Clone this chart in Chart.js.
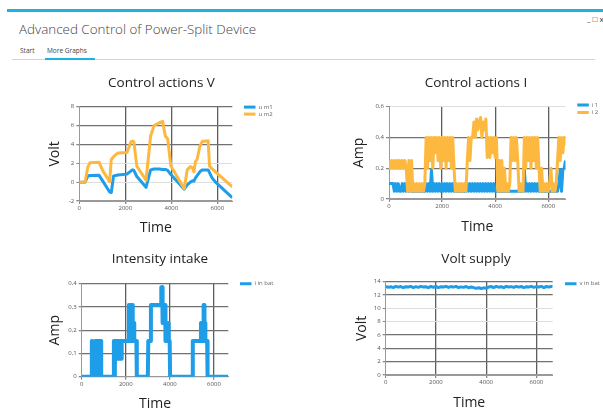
<!DOCTYPE html>
<html>
<head>
<meta charset="utf-8">
<script src="https://cdn.jsdelivr.net/npm/chart.js@4.4.1/dist/chart.umd.min.js"></script>
<style>
  html, body { margin: 0; padding: 0; background: #fff; overflow: hidden; width: 603px; height: 416px; }
  .abs { position: absolute; }
  canvas { position: absolute; }
  .hdr { font-family: 'Open Sans', sans-serif; color: #444; white-space: nowrap; }
</style>
</head>
<body>
<div class="abs" style="left:7px;top:9px;width:596px;height:3px;background:#1cb3e2"></div>
<div class="abs hdr" style="left:19px;top:20px;font-size:13.4px;font-weight:300;">Advanced Control of Power-Split Device</div>
<div class="abs hdr" style="left:587px;top:13px;font-size:8px;color:#333;">_ &#9633; x</div>
<div class="abs hdr" style="left:20px;top:46px;font-size:6.5px;">Start</div>
<div class="abs hdr" style="left:47px;top:46px;font-size:6.5px;">More Graphs</div>
<div class="abs" style="left:12px;top:59px;width:583px;height:1px;background:#d4d4d4"></div>
<div class="abs" style="left:45px;top:58px;width:50px;height:2px;background:#1cb3e2"></div>

<canvas id="c1" width="243" height="170" style="left:40px;top:70px"></canvas>
<canvas id="c2" width="254" height="170" style="left:349px;top:70px"></canvas>
<canvas id="c3" width="240" height="171" style="left:40px;top:245px"></canvas>
<canvas id="c4" width="254" height="171" style="left:349px;top:245px"></canvas>

<script>
// ---------------- DATA ----------------
const xTicks = [0, 2000, 4000, 6000];

// Control actions V
const t1  = [0, 250, 370, 460, 860, 1035, 1320, 1390, 1490, 1680, 2070, 2250, 2320, 2370, 2500, 2900, 3100, 3250, 3480, 3620, 3740, 3840, 3980, 4560, 4690, 4830, 4930, 4980, 5050, 5120, 5240, 5340, 5600, 5660, 5770, 5920, 6650];
const um1 = [0, 0, 0.65, 0.7, 0.72, 0.05, -1.05, -1.1, 0.65, 0.75, 0.85, 1.2, 1.3, 1.25, 0.6, -0.55, 1.3, 1.4, 1.4, 1.35, 1.35, 1.25, 0.8, -0.75, -0.3, 0.0, 0.15, 0.1, 0.45, 0.7, 1.1, 1.3, 1.3, 1.0, 0.45, 0.0, -1.65];
const um2 = [0, 0, 1.6, 2.05, 2.1, 1.15, 0.05, 2.4, 2.7, 3.1, 3.15, 4.3, 4.35, 4.3, 1.7, 0.2, 4.9, 6.0, 6.3, 6.45, 4.9, 4.6, 1.7, -0.7, 1.3, 1.65, 1.5, 1.1, 2.2, 2.4, 3.8, 4.3, 4.4, 1.7, 1.4, 1.1, -0.5];
const yTicks1 = [-2, 0, 2, 4, 6, 8];

// Control actions I
const t2 = [0,50,100,150,200,250,300,350,400,450,500,550,600,650,700,750,800,850,900,950,1000,1050,1100,1150,1200,1250,1300,1350,1400,1450,1500,1550,1600,1650,1700,1750,1800,1850,1900,1950,2000,2050,2100,2150,2200,2250,2300,2350,2400,2450,2500,2550,2600,2650,2700,2750,2800,2850,2900,2950,3000,3050,3100,3150,3200,3250,3300,3350,3400,3450,3500,3550,3600,3650,3700,3750,3800,3850,3900,3950,4000,4050,4100,4150,4200,4250,4300,4350,4400,4450,4500,4550,4600,4650,4700,4750,4800,4850,4900,4950,5000,5050,5100,5150,5200,5250,5300,5350,5400,5450,5500,5550,5600,5650,5700,5750,5800,5850,5900,5950,6000,6050,6100,6150,6200,6250,6300,6350,6400,6450,6500,6550,6600,6650];
const i1 = [0.1,0.1,0.1,0.1,
  0.05,0.1,0.05,0.1,0.05,0.05,0.1,0.05,0.1,0.05,0.1,0.05,0.1,
  0.05,0.05,0.05,0.05,0.05,0.05,0.05,0.05,0.05,0.05,0.05,
  0.1,0.05,0.1,0.05,0.19,0.05,0.1,0.05,0.1,0.05,0.1,0.05,0.1,0.05,0.1,0.05,0.1,0.05,0.1,0.05,0.1,
  0.05,0.05,0.05,0.05,0.05,0.05,0.05,0.05,0.05,0.05,
  0.1,0.05,0.1,0.05,0.1,0.05,0.1,0.05,0.1,0.05,0.1,0.05,0.1,0.05,0.1,0.05,0.1,0.05,0.1,0.05,0.1,0.05,
  0.05,0.05,0.05,0.05,0.05,0.05,0.05,0.05,0.05,0.05,0.05,0.05,0.05,0.05,0.05,0.05,0.05,0.05,0.05,0.05,0.05,
  0.19,0.05,0.1,0.05,0.1,0.05,0.1,0.05,0.1,0.05,0.1,
  0.05,0.05,0.05,0.05,0.05,0.05,0.05,0.05,0.05,0.05,0.05,0.05,0.05,0.05,0.05,
  0.1,0.19,0.05,0.19,0.2,0.25];
const i2 = [0.25,0.2,0.25,0.2,0.25,0.2,0.25,0.2,0.25,0.2,0.25,0.2,0.25,0.2,0.05,0.25,0.05,
  0.25,0.05,0.1,0.05,0.1,0.05,0.1,0.05,0.1,0.05,0.1,
  0.4,0.2,0.4,0.25,0.4,0.2,0.4,0.3,0.4,0.25,0.4,0.2,0.4,0.25,0.4,0.2,0.4,0.25,0.4,0.2,0.4,
  0.2,0.05,0.1,0.05,0.1,0.05,0.1,0.05,0.1,0.05,
  0.25,0.4,0.25,0.4,
  0.4,0.5,0.4,0.52,0.45,0.5,0.53,0.4,0.5,0.45,0.52,
  0.27,0.4,0.27,0.4,0.3,0.4,0.27,
  0.4,0.05,0.25,0.05,0.25,0.05,0.2,
  0.05,0.1,0.05,0.1,
  0.4,0.25,0.4,0.25,0.4,0.25,
  0.05,0.1,0.05,0.05,
  0.4,0.2,0.4,0.25,0.4,0.2,0.4,0.25,0.4,0.2,0.4,
  0.2,0.05,0.2,0.05,0.1,0.05,0.1,0.05,0.1,0.2,0.05,0.1,0.05,
  0.1,0.25,0.4,0.25,0.4,0.3,0.4,0.35];
const yTicks2 = [0, 0.2, 0.4, 0.6];

// Intensity intake
const t3 = [0,450,460,480,490,600,610,620,640,650,700,705,720,725,800,805,830,835,880,885,1450,1460,1490,1495,1510,1515,1560,1565,1580,1585,1610,1615,1640,1645,1670,1675,1700,1705,1720,1725,1760,1765,1790,1795,1820,1825,2130,2140,2180,2190,2230,2235,2260,2270,2290,2300,2320,2325,2340,2345,2380,2385,2480,2500,3000,3020,3120,3140,3600,3610,3650,3660,3680,3690,3720,3730,3760,3770,3790,3800,3830,3840,3870,3880,3920,3930,3950,3960,3990,4010,5020,5040,5400,5410,5440,5450,5470,5480,5520,5530,5560,5570,5600,5610,5690,5710,6650];
const ibat = [0,0,0.154,0.154,0,0,0.154,0,0,0.154,0.154,0,0,0.154,0.154,0,0,0.154,0.154,0,0,0.154,0.154,0,0,0.154,0.154,0.077,0.077,0.154,0.154,0.077,0.077,0.154,0.154,0.077,0.077,0.154,0.154,0.077,0.077,0.154,0.154,0.077,0.077,0.154,0.154,0.308,0.308,0.154,0.154,0.231,0.231,0.308,0.308,0.231,0.231,0.154,0.154,0.231,0.231,0.154,0.154,0,0,0.154,0.154,0.308,0.308,0.385,0.385,0.231,0.231,0.308,0.308,0.231,0.231,0.308,0.308,0.154,0.154,0.231,0.231,0.154,0.154,0.231,0.231,0.154,0.154,0,0,0.154,0.154,0.231,0.231,0.154,0.154,0.231,0.231,0.308,0.308,0.231,0.231,0.154,0.154,0,0];
const yTicks3 = [0, 0.1, 0.2, 0.3, 0.4];

// Volt supply
const t4 = [0,100,200,300,400,500,600,700,800,900,1000,1100,1200,1300,1400,1500,1600,1700,1800,1900,2000,2100,2200,2300,2400,2500,2600,2700,2800,2900,3000,3100,3200,3300,3400,3500,3600,3700,3800,3900,4000,4100,4200,4300,4400,4500,4600,4700,4800,4900,5000,5100,5200,5300,5400,5500,5600,5700,5800,5900,6000,6100,6200,6300,6400,6500,6600,6650];
const vbat = [13.3,13.15,13.25,13.12,13.3,13.18,13.28,13.1,13.25,13.2,13.3,13.12,13.26,13.15,13.3,13.2,13.24,13.1,13.3,13.16,13.28,13.12,13.25,13.2,13.3,13.14,13.27,13.18,13.3,13.12,13.22,13.15,13.28,13.1,13.2,13.12,
  13.0,13.1,12.98,13.08,13.02,
  13.2,13.28,13.12,13.3,13.18,13.25,13.1,13.3,13.2,13.26,13.14,13.3,13.18,13.28,13.12,13.25,13.2,13.3,13.15,13.27,13.2,13.3,13.12,13.28,13.2,13.3,13.25];
const yTicks4 = [0, 2, 4, 6, 8, 10, 12, 14];

// ---------------- STYLE ----------------
const BLUE = '#1e9de8', ORANGE = '#fdb83f';
const DARK = '#707070', LIGHT = '#dddddd';
const FONT = "'Open Sans', sans-serif";

const fixLegend = {
  id: 'fixLegend',
  beforeLayout(chart, args, opts) {
    const lg = chart.legend;
    if (!lg || lg._fixedBox) return;
    lg._fixedBox = true;
    const fit = lg.fit;
    lg.fit = function () { fit.call(this); this.width = opts.width; };
    const draw = lg.draw;
    lg.draw = function (...a) {
      const l = this.left, t = this.top;
      this.left += opts.dx; this.top += opts.dy;
      draw.apply(this, a);
      this.left = l; this.top = t;
    };
  }
};

const pts = (xs, ys) => xs.map((x, i) => ({ x, y: ys[i] }));
const comma = v => String(v).replace('.', ',');

function makeChart(id, g) {
  return new Chart(document.getElementById(id), {
    type: 'line',
    data: { datasets: g.datasets },
    plugins: [fixLegend],
    options: {
      responsive: false, animation: false, devicePixelRatio: 1,
      layout: { padding: 0 },
      elements: { point: { radius: 0 }, line: { tension: 0, borderJoinStyle: 'round' } },
      plugins: {
        tooltip: { enabled: false },
        title: {
          display: true, text: g.title, color: '#222',
          font: { family: FONT, size: 13.5, weight: 'normal', lineHeight: 1.2 },
          padding: { top: g.titlePad[0], bottom: g.titlePad[1] }
        },
        legend: {
          position: 'right', align: 'start', fullSize: false,
          labels: {
            boxWidth: 11.5, boxHeight: 3, padding: g.legPad, color: '#666',
            font: { family: FONT, size: 6 },
            sort: (a, b) => a.datasetIndex - b.datasetIndex,
            generateLabels: ch => Chart.defaults.plugins.legend.labels.generateLabels(ch)
              .map(l => Object.assign(l, { lineWidth: 0, fillStyle: l.strokeStyle }))
          }
        },
        fixLegend: g.leg
      },
      scales: {
        x: {
          type: 'linear', min: 0, max: 6650,
          afterBuildTicks: s => { s.ticks = xTicks.map(v => ({ value: v })); },
          afterFit: s => { s.height = g.xH; },
          ticks: { color: '#555', font: { family: FONT, size: 6 }, padding: 1, maxRotation: 0, callback: v => String(v) },
          grid: { color: c => c.tick && c.tick.value === 0 ? '#999' : '#5e5e5e', lineWidth: c => c.tick && c.tick.value === 0 ? 1 : 1.3, tickLength: 3, tickColor: '#888' },
          border: { color: '#999', width: 1 },
          title: { display: true, text: 'Time', color: '#222', font: { family: FONT, size: 14, lineHeight: 1 }, padding: { top: 0, bottom: g.xTitlePad } }
        },
        y: {
          type: 'linear', min: g.yTicks[0], max: g.yTicks[g.yTicks.length - 1],
          afterBuildTicks: s => { s.ticks = g.yTicks.map(v => ({ value: v })); },
          afterFit: s => { s.width = g.yW; },
          ticks: { color: '#555', font: { family: FONT, size: 6 }, padding: 2, callback: comma },
          grid: {
            color: c => (g.yLight.includes(c.tick && c.tick.value) ? LIGHT : (c.tick && c.tick.value === g.yTicks[0] ? '#999' : DARK)),
            lineWidth: c => (g.yLight.includes(c.tick && c.tick.value) ? 1 : 1.3),
            tickLength: 3, tickColor: '#888'
          },
          border: { color: '#999', width: 1 },
          title: { display: true, text: g.yTitle, color: '#222', font: { family: FONT, size: 14, lineHeight: 1 }, padding: { top: g.yTitlePad, bottom: 0 } }
        }
      }
    }
  });
}

makeChart('c1', {
  title: 'Control actions V', titlePad: [4.6, 15.9], yTitle: 'Volt', yTitlePad: 8,
  yTicks: yTicks1, yLight: [0, 2], yW: 39.3, xH: 39, xTitlePad: 5,
  legPad: 1, leg: { width: 50.7, dx: 10.7, dy: -3.6 },
  datasets: [
    { label: 'u m1', data: pts(t1, um1), borderColor: BLUE, backgroundColor: BLUE, borderWidth: 3, order: 2 },
    { label: 'u m2', data: pts(t1, um2), borderColor: ORANGE, backgroundColor: ORANGE, borderWidth: 3, order: 1 }
  ]
});

makeChart('c2', {
  title: 'Control actions I', titlePad: [4.6, 15.9], yTitle: 'Amp', yTitlePad: 3,
  yTicks: yTicks2, yLight: [0.6], yW: 40, xH: 41, xTitlePad: 6,
  legPad: 1.5, leg: { width: 37.5, dx: 10.3, dy: -6.1 },
  datasets: [
    { label: 'i 1', data: pts(t2, i1), borderColor: BLUE, backgroundColor: BLUE, borderWidth: 3, order: 2 },
    { label: 'i 2', data: pts(t2, i2), borderColor: ORANGE, backgroundColor: ORANGE, borderWidth: 3, order: 1 }
  ]
});

makeChart('c3', {
  title: 'Intensity intake', titlePad: [5.9, 16.6], yTitle: 'Amp', yTitlePad: 8,
  yTicks: yTicks3, yLight: [], yW: 41.7, xH: 39.3, xTitlePad: 5,
  legPad: 1, leg: { width: 51.7, dx: 10.7, dy: -4 },
  datasets: [
    { label: 'i in bat', data: pts(t3, ibat), borderColor: BLUE, backgroundColor: BLUE, borderWidth: 4 }
  ]
});

makeChart('c4', {
  title: 'Volt supply', titlePad: [5.9, 14.6], yTitle: 'Volt', yTitlePad: 6,
  yTicks: yTicks4, yLight: [8, 10], yW: 36.7, xH: 41, xTitlePad: 5.7,
  legPad: 1, leg: { width: 50.3, dx: 11.3, dy: -2 },
  datasets: [
    { label: 'v in bat', data: pts(t4, vbat), borderColor: BLUE, backgroundColor: BLUE, borderWidth: 3 }
  ]
});
</script>
</body>
</html>
